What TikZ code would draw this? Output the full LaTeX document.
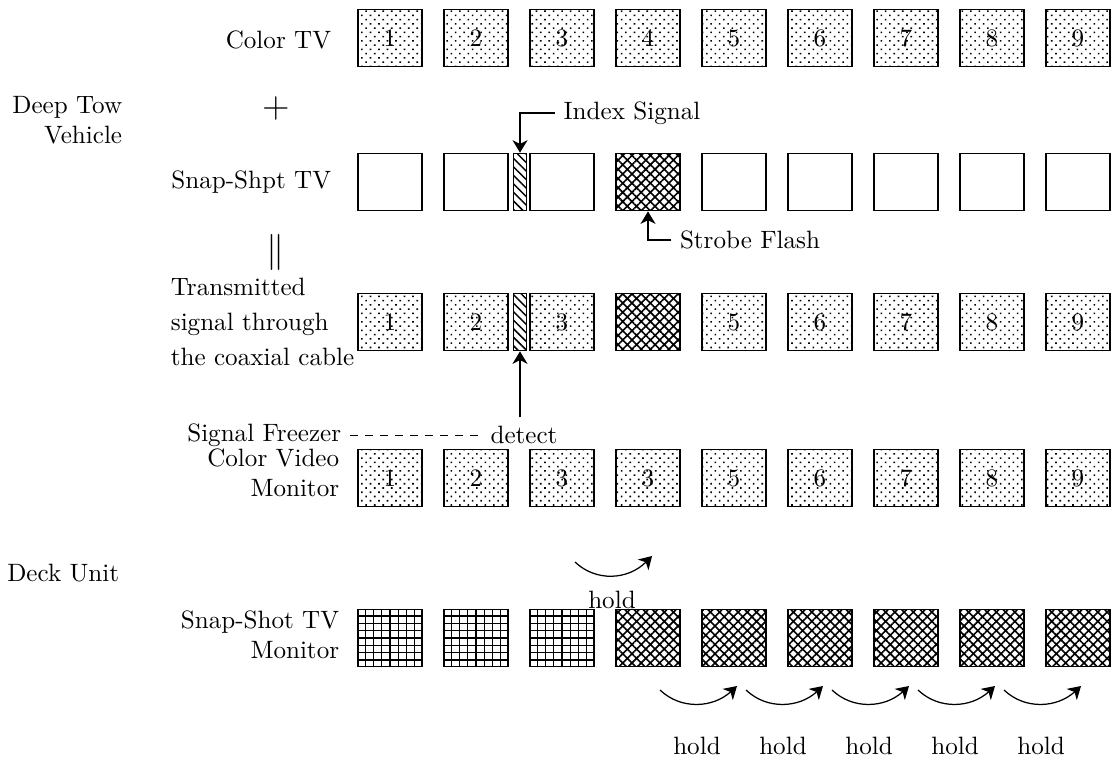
\documentclass[tikz,border=0pt]{standalone}
\usepackage{tikz}
\usetikzlibrary{
  arrows.meta,
  positioning,
  calc,
  patterns.meta
}

\begin{document}
\begin{tikzpicture}[x=0.014cm, y=-0.014cm,
			scr/.style={draw, line width=0.6pt, minimum width=0.9cm,
				minimum height=0.8cm, inner sep=0pt},
			dt/.style={scr, pattern={Dots[angle=45,distance=2.4pt,radius=0.45pt]}},
			hx/.style={scr, pattern={Hatch[angle=45,distance=2.6pt,line width=0.65pt]}},
			gd/.style={scr},
			gl/.style={line width=0.55pt},
			ix/.style={draw, line width=0.6pt, minimum width=0.18cm, minimum height=0.8cm,
				inner sep=0pt, pattern={Lines[angle=-45,distance=2.4pt,line width=0.6pt]}},
			lb/.style={align=right, anchor=east},
			ar/.style={-{Stealth[length=5pt,width=6pt,inset=1.5pt]}, line width=0.5pt}
			]
			\useasboundingbox (0,0) rectangle (1114,769);
			% screens, row by row
			\foreach \i in {1,...,9} \node[dt] (c\i) at ({390+86*(\i-1)},38) {\i};
			\foreach \i in {1,2,3,5,6,7,8,9} \node[scr] (s\i) at ({390+86*(\i-1)},182) {};
			\node[hx] (s4) at (648,182) {};
			\node[ix] (six) at (520,182) {};
			\foreach \i in {1,2,3,5,6,7,8,9} \node[dt] (t\i) at ({390+86*(\i-1)},322) {\i};
			\node[hx] (t4) at (648,322) {};
			\node[ix] (tix) at (520,322) {};
			\foreach \n [count=\i] in {1,2,3,3,5,6,7,8,9}
				\node[dt] (m\i) at ({390+86*(\i-1)},478) {\n};
			\foreach \i in {1,2,3} {
				\node[gd] (p\i) at ({390+86*(\i-1)},638) {};
				\foreach \u in {1,...,7}
					\draw[gl] ($(p\i.south west)!\u/8!(p\i.south east)$) -- ($(p\i.north west)!\u/8!(p\i.north east)$)
						($(p\i.south west)!\u/8!(p\i.north west)$) -- ($(p\i.south east)!\u/8!(p\i.north east)$);
			}
			\foreach \i in {4,...,9} \node[hx] (p\i) at ({390+86*(\i-1)},638) {};
			% labels
			\node[lb] (ctv) at (340,40) {Color TV};
			\node[lb] (dtv) at (131,120) {Deep Tow\\Vehicle};
			\node (plus) at (276,108) {\Large$+$};
			\node[lb] (stv) at (340,182) {Snap-Shpt TV};
			\node (eq) at (276,252) {\Large$\|$};
			\node[align=left, anchor=west] (tsg) at (162,322)
			{Transmitted\\[2pt]signal through\\[2pt]the coaxial cable};
			\node[lb] (cvm) at (348,473) {Color Video\\Monitor};
			\node[lb] (dku) at (128,573) {Deck Unit};
			\node[lb] (ssm) at (348,635) {Snap-Shot TV\\Monitor};
			% index signal, strobe, freezer
			\node (isg) at (632,113) {Index Signal};
			\draw[ar] (isg.west) -| (six.north);
			\node (sfl) at (750,240) {Strobe Flash};
			\draw[ar] (sfl.west) -| (s4.south);
			\node[lb] (sfz) at (350,435) {Signal Freezer};
			\node (det) at (524,435) {detect};
			\draw[dash pattern=on 3pt off 3pt] (sfz) -- (det);
			\draw[ar] (tix.south |- det.north) -- (tix.south);
			% hold arrows
			\coordinate (a0) at (575,562); \coordinate (b0) at (652,556);
			\draw[ar] (a0) .. controls (596,582) and (628,580) .. (b0);
			\node (h0) at (612,600) {hold};
			\foreach \k in {1,...,5} {
				\coordinate (a\k) at ({574+86*\k},690);
				\coordinate (b\k) at ({651+86*\k},686);
				\draw[ar] (a\k) .. controls ({595+86*\k},710) and ({627+86*\k},708) .. (b\k);
				\node (h\k) at ({611+86*\k},746) {hold};
			}
	\end{tikzpicture}
\end{document}
